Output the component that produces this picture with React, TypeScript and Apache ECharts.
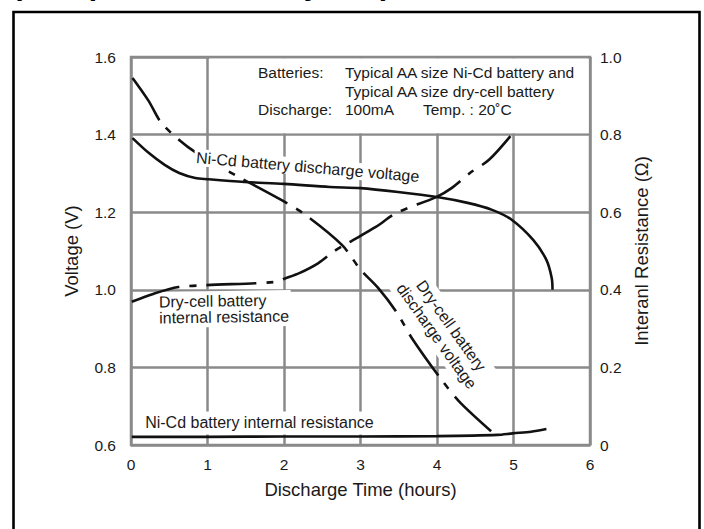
import React, { useEffect, useRef } from "react";
import * as echarts from "echarts";

// ---- data (hours, value) ----
const xTicks = [0, 1, 2, 3, 4, 5, 6];
const voltageTicks = [0.6, 0.8, 1.0, 1.2, 1.4, 1.6];
const resistanceTicks = [0, 0.2, 0.4, 0.6, 0.8, 1.0];

const niCdVoltage: [number, number][] = [
  [0.02, 1.391], [0.23, 1.353], [0.44, 1.322], [0.63, 1.301], [0.84, 1.288],
  [1.0, 1.285], [1.48, 1.278], [2.0, 1.273], [2.6, 1.265], [3.0, 1.262],
  [3.49, 1.252], [4.0, 1.239], [4.4, 1.224], [4.72, 1.206], [4.98, 1.18],
  [5.26, 1.128], [5.43, 1.077], [5.5, 1.03], [5.51, 1.0],
];

const dryVoltage: [number, number][] = [
  [0.02, 1.546], [0.23, 1.487], [0.39, 1.432], [0.63, 1.386], [0.84, 1.355],
  [1.36, 1.296], [1.97, 1.231], [2.28, 1.193], [2.76, 1.115], [3.0, 1.052],
  [3.23, 1.005], [3.47, 0.943], [3.67, 0.876], [4.06, 0.768], [4.31, 0.708],
  [4.79, 0.621],
];

const dryResistance: [number, number][] = [
  [0.01, 0.369], [0.3, 0.39], [0.62, 0.407], [0.99, 0.412], [1.87, 0.42],
  [2.02, 0.43], [2.2, 0.443], [2.45, 0.469], [2.66, 0.5], [2.84, 0.521],
  [3.2, 0.562], [3.47, 0.598], [3.99, 0.639], [4.19, 0.662], [4.43, 0.701],
  [4.68, 0.735], [4.96, 0.796],
];

const niCdResistance: [number, number][] = [
  [0.01, 0.021], [1.0, 0.021], [2.0, 0.022], [3.0, 0.022], [4.0, 0.023],
  [4.79, 0.026], [4.99, 0.03], [5.23, 0.034], [5.43, 0.041],
];

const title = "(Comparison with dry-cell)";
const noteLines = [
  ["Batteries:", "Typical AA size Ni-Cd battery and"],
  ["", "Typical AA size dry-cell battery"],
  ["Discharge:", "100mA"],
];
const noteTemp = "Temp. : 20˚C";

const FONT = "Liberation Sans, Arial, Helvetica, sans-serif";
const TXT = "#1a1a1a";
const GRID = "#8a8a8a";
const INK = "#111";

export default function App() {
  const ref = useRef<HTMLDivElement>(null);

  useEffect(() => {
    if (!ref.current) return;
    const chart = echarts.init(ref.current, undefined, { renderer: "svg" });

    const lineSeries = (name: string, data: [number, number][], yAxisIndex: number, dashed: boolean) => ({
      type: "line",
      name,
      data,
      yAxisIndex,
      smooth: 0.3,
      showSymbol: false,
      silent: true,
      z: 3,
      lineStyle: { color: INK, width: 2.6, type: dashed ? [50, 10, 7, 10] : "solid", cap: "butt" },
    });

    chart.setOption({
      animation: false,
      backgroundColor: "#ffffff",
      textStyle: { fontFamily: FONT },
      grid: {
        left: 131, right: 114, top: 57, bottom: 84,
        show: true, borderColor: GRID, borderWidth: 2.5, backgroundColor: "transparent",
      },
      xAxis: {
        type: "value", min: xTicks[0], max: xTicks[xTicks.length - 1], interval: 1,
        name: "Discharge Time (hours)", nameLocation: "middle", nameGap: 35,
        nameTextStyle: { fontSize: 18.5, color: TXT, fontFamily: FONT },
        axisLine: { show: false }, axisTick: { show: false },
        axisLabel: { fontSize: 15.5, color: TXT, margin: 11, fontFamily: FONT },
        splitLine: { show: true, lineStyle: { color: GRID, width: 2.5 } },
      },
      yAxis: [
        {
          type: "value", position: "left",
          min: voltageTicks[0], max: voltageTicks[voltageTicks.length - 1], interval: 0.2,
          name: "Voltage (V)", nameLocation: "middle", nameRotate: 90, nameGap: 50,
          nameTextStyle: { fontSize: 18.5, color: TXT, fontFamily: FONT },
          axisLine: { show: false }, axisTick: { show: false },
          axisLabel: { fontSize: 15.5, color: TXT, margin: 15, fontFamily: FONT, formatter: (v: number) => v.toFixed(1) },
          splitLine: { show: true, lineStyle: { color: GRID, width: 2.5 } },
        },
        {
          type: "value", position: "right",
          min: resistanceTicks[0], max: resistanceTicks[resistanceTicks.length - 1], interval: 0.2,
          name: "Interanl Resistance (Ω)", nameLocation: "middle", nameRotate: 90, nameGap: 42,
          nameTextStyle: { fontSize: 18.5, color: TXT, fontFamily: FONT },
          axisLine: { show: false }, axisTick: { show: false },
          axisLabel: { fontSize: 15.5, color: TXT, margin: 10, fontFamily: FONT, formatter: (v: number) => (v === 0 ? "0" : v.toFixed(1)) },
          splitLine: { show: false },
        },
      ],
      series: [
        lineSeries("Ni-Cd battery discharge voltage", niCdVoltage, 0, false),
        lineSeries("Dry-cell battery discharge voltage", dryVoltage, 0, true),
        lineSeries("Dry-cell battery internal resistance", dryResistance, 1, true),
        lineSeries("Ni-Cd battery internal resistance", niCdResistance, 1, false),
      ],
    });

    const p = (h: number, v: number) => chart.convertToPixel({ xAxisIndex: 0, yAxisIndex: 0 }, [h, v]) as number[];
    const g1 = p(1, 1.4);
    const gTop = p(6, 1.6);

    const label = (text: string, at: number[], opts: any = {}) => ({
      type: "text",
      x: at[0], y: at[1],
      rotation: opts.rotation || 0,
      z: opts.z ?? 1,
      silent: true,
      style: {
        text, fill: TXT, fontSize: opts.fontSize || 16, fontFamily: FONT,
        align: opts.align || "center", verticalAlign: "middle",
        lineHeight: opts.lineHeight || 17,
        backgroundColor: opts.bg === false ? undefined : "#ffffff",
        padding: opts.padding || [1, 3],
      },
    });

    const noteRows = [72, 91, 109];
    const elements: any[] = [
      {
        type: "rect", silent: true, z: 20,
        shape: { x: 13.5, y: 12, width: 686, height: 600 },
        style: { fill: "none", stroke: "#000", lineWidth: 2.6 },
      },
      {
        type: "text", silent: true, z: 20, x: 12, y: -16,
        style: { text: title, fill: "#000", fontSize: 30, fontWeight: "bold", fontFamily: FONT, align: "left", verticalAlign: "middle" },
      },
      {
        type: "rect", silent: true, z: 1,
        shape: { x: g1[0] + 2, y: gTop[1] + 1.5, width: gTop[0] - g1[0] - 3.5, height: g1[1] - gTop[1] - 2.8 },
        style: { fill: "#ffffff" },
      },
    ];
    noteLines.forEach((row, i) => {
      if (row[0]) elements.push(label(row[0], [255, noteRows[i]], { align: "left", bg: false, fontSize: 15.5, z: 2 }));
      elements.push(label(row[1], [342, noteRows[i]], { align: "left", bg: false, fontSize: 15.5, z: 2 }));
    });
    elements.push(label(noteTemp, [420, noteRows[2]], { align: "left", bg: false, fontSize: 15.5, z: 2 }));

    elements.push(label("Ni-Cd battery discharge voltage", p(2.31, 1.3165), { rotation: -0.085, z: 10, padding: [0, 2] }));
    elements.push(label("Dry-cell battery\ninternal resistance", p(0.34, 0.948), { align: "left", rotation: 0.015, lineHeight: 16, padding: [2, 2] }));
    elements.push(label("Dry-cell battery\ndischarge voltage", p(4.09, 0.894), { rotation: -0.95, lineHeight: 18, padding: [2, 3] }));
    elements.push(label("Ni-Cd battery internal resistance", p(0.146, 0.657), { align: "left", padding: [3, 3] }));

    chart.setOption({ graphic: { elements } });

    return () => chart.dispose();
  }, []);

  return <div ref={ref} style={{ position: "absolute", left: 0, top: 0, width: 704, height: 529 }} />;
}
